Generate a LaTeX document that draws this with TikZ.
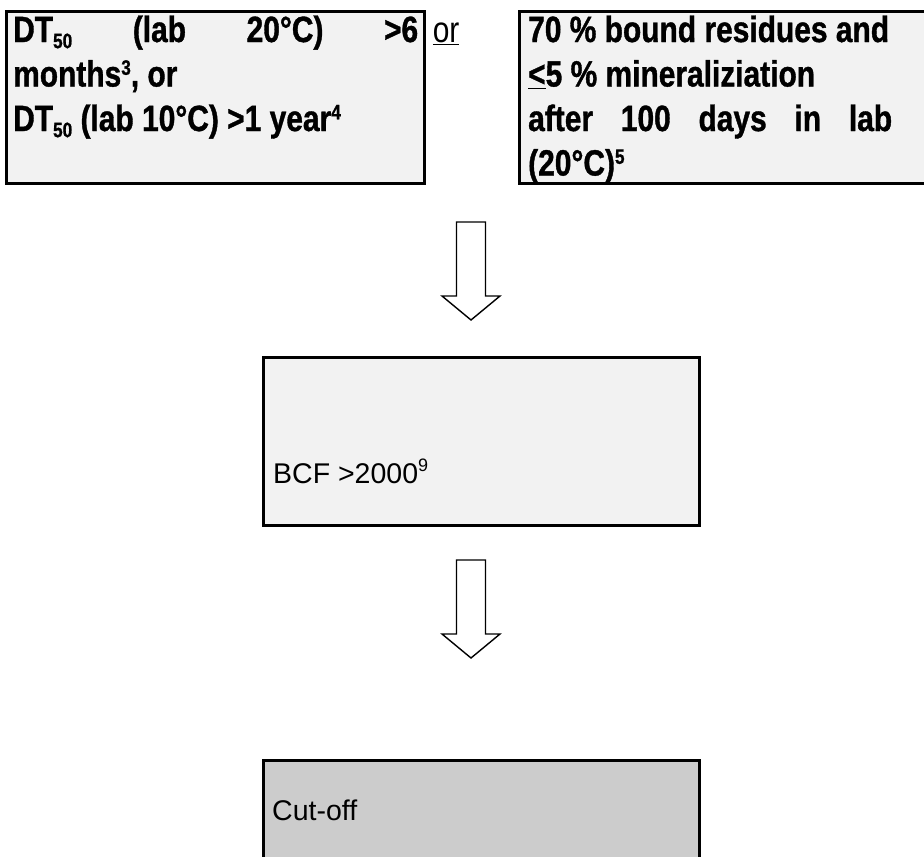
\documentclass[tikz,border=0pt]{standalone}
\usepackage{fontspec}
\setmainfont{Liberation Sans}
\newfontfamily\narrowfont{Liberation Sans}[FakeStretch=0.82,BoldFeatures={FakeBold=1}]
\usetikzlibrary{positioning}
\definecolor{boxfill}{HTML}{F2F2F2}
\definecolor{cutfill}{HTML}{CCCCCC}
\newcommand\lo[1]{\raisebox{-0.17em}{\fontsize{21}{21}\selectfont #1}}
\newcommand\hi[1]{\raisebox{0.32em}{\fontsize{21}{21}\selectfont #1}}
\newcommand\fn[1]{\raisebox{0.42em}{\fontsize{18}{18}\selectfont #1}}

\begin{document}
\begin{tikzpicture}[x=1pt,y=-1pt,
  box/.style={draw,line width=2.6pt,fill=boxfill,anchor=north west,inner sep=0pt},
  crit/.style={anchor=base west,inner sep=0pt,align=justify,
    font=\narrowfont\bfseries\fontsize{36.5}{44.5}\selectfont},
  plain/.style={anchor=base west,inner sep=0pt,font=\fontsize{28.5}{34}\selectfont},
  arrowline/.style={draw,fill=white,line width=1.4pt,line join=miter},
  pics/blockdown/.style={code={\path[arrowline] (-14.5,0) -- (14.5,0) -- (14.5,74)
      -- (29,74) -- (0,98) -- (-29,74) -- (-14.5,74) -- cycle;}}]

  \useasboundingbox (0,0) rectangle (924,857);
  \clip (0,0) rectangle (924,857);

  \node[box,minimum width=418pt,minimum height=172pt] (left) at (5,10) {};
  \node[box,minimum width=430pt,minimum height=172pt] (right) at (518,10) {};
  \node[box,minimum width=436pt,minimum height=168pt] (bcf) at (262,356) {};
  \node[box,fill=cutfill,minimum width=436pt,minimum height=130pt] (cut) at (262,759) {};

  \node[crit,text width=405pt] (lefttext) at ([xshift=8pt,yshift=-32pt]left.north west)
    {DT\lo{50} \hfill (lab \hfill 20°C) \hfill >6\\ months\hi{3}, or\\ DT\lo{50} (lab 10°C) >1 year\hi{4}};
  \node[anchor=base west,inner sep=0pt,font=\narrowfont\fontsize{36.5}{44.5}\selectfont]
    (or) at ([xshift=7pt,yshift=-32pt]left.north east) {\underline{or}};
  \node[crit,text width=364pt] (righttext) at ([xshift=10pt,yshift=-32pt]right.north west)
    {70 \% bound residues and\\ \underline{<}5 \% mineraliziation\\
     after \hfill 100 \hfill days \hfill in \hfill lab\\ (20°C)\hi{5}};
  \node[plain] (bcftext) at ([xshift=11pt,yshift=-127pt]bcf.north west) {BCF >2000\fn{9}};
  \node[plain] (cuttext) at ([xshift=10pt,yshift=-61pt]cut.north west) {Cut-off};

  \coordinate (a1) at (471,222);
  \coordinate (a2) at (471,560);
  \pic at (a1) {blockdown};
  \pic at (a2) {blockdown};
\end{tikzpicture}
\end{document}
